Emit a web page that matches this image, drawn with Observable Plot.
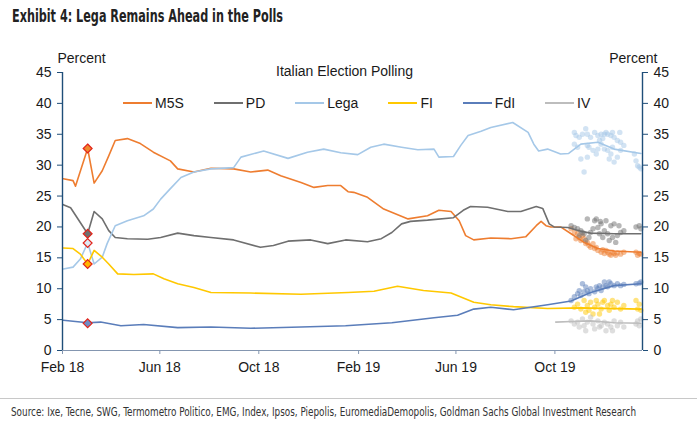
<!DOCTYPE html>
<html><head><meta charset="utf-8">
<script src="https://cdn.jsdelivr.net/npm/d3@7"></script>
<script src="https://cdn.jsdelivr.net/npm/@observablehq/plot@0.6"></script>
<style>
body{margin:0;background:#fff;}
#wrap{position:relative;width:697px;height:432px;overflow:hidden;background:#fff;font-family:"Liberation Sans",Arial,sans-serif;color:#1a1a1a;}
#title{position:absolute;left:12px;top:6px;font-family:"Liberation Sans Narrow","Arial Narrow","DejaVu Sans Condensed",sans-serif;font-weight:bold;font-size:17px;line-height:20px;white-space:nowrap;transform-origin:0 0;color:#222;}
#chart{position:absolute;left:0;top:35px;}
#legend{position:absolute;top:94px;left:123px;height:18px;display:flex;gap:30px;font-size:14px;}
.li{height:18px;line-height:18px;white-space:nowrap;display:flex;align-items:center;}
.sw{display:inline-block;width:29px;height:2px;margin-right:3px;}
#sep{position:absolute;left:0;top:398px;width:697px;height:1px;background:#c8c8c8;}
#source{position:absolute;left:11px;top:405px;font-family:"Liberation Sans Narrow","Arial Narrow","DejaVu Sans Condensed",sans-serif;font-size:12px;line-height:14px;color:#333;white-space:nowrap;transform-origin:0 0;}
</style></head>
<body>
<div id="wrap">
  <div id="title">Exhibit 4: Lega Remains Ahead in the Polls</div>
  <div id="chart"></div>
  <div id="legend"></div>
  <div id="sep"></div>
  <div id="source">Source: Ixe, Tecne, SWG, Termometro Politico, EMG, Index, Ipsos, Piepolis, EuromediaDemopolis, Goldman Sachs Global Investment Research</div>
</div>
<script>
// ---------- data ----------
const parties = ["M5S", "PD", "Lega", "FI", "FdI", "IV"];
const partyColors = ["#EE7D30", "#6F6F6F", "#A5C8E8", "#FFC800", "#5A7DBA", "#BDBDBD"];

const yTicks = [0, 5, 10, 15, 20, 25, 30, 35, 40, 45];
const xTickDates = ["2018-02-01", "2018-06-01", "2018-10-01", "2019-02-01", "2019-06-01", "2019-10-01"];
const xTickLabels = ["Feb 18", "Jun 18", "Oct 18", "Feb 19", "Jun 19", "Oct 19"];
const xStart = "2018-02-01", xEnd = "2020-01-17";

const m5sLine = [["2018-02-02",27.8],["2018-02-14",27.5],["2018-02-17",26.6],["2018-03-04",32.7],["2018-03-12",27.1],["2018-03-22",29.1],["2018-03-30",31.5],["2018-04-07",34.0],["2018-04-22",34.3],["2018-05-08",33.5],["2018-05-24",32.1],["2018-06-14",30.7],["2018-06-23",29.4],["2018-07-13",28.9],["2018-08-03",29.5],["2018-08-31",29.4],["2018-09-21",28.9],["2018-10-12",29.2],["2018-10-28",28.3],["2018-11-22",27.2],["2018-12-08",26.4],["2018-12-25",26.7],["2019-01-10",26.7],["2019-01-19",25.7],["2019-01-26",25.6],["2019-02-12",24.8],["2019-03-04",22.9],["2019-04-03",21.3],["2019-04-27",21.8],["2019-05-11",22.7],["2019-05-26",22.5],["2019-06-05",21.0],["2019-06-13",18.6],["2019-06-23",17.9],["2019-07-14",18.2],["2019-08-08",18.1],["2019-08-26",18.4],["2019-09-08",20.2],["2019-09-14",20.9],["2019-09-20",20.2],["2019-09-26",20.0],["2019-10-08",20.0],["2019-10-21",18.9],["2019-11-06",17.5],["2019-11-23",16.5],["2019-12-13",16.1],["2020-01-15",15.9]];
const pdLine = [["2018-02-02",23.6],["2018-02-11",23.1],["2018-03-04",18.9],["2018-03-12",22.5],["2018-03-22",21.3],["2018-03-30",19.4],["2018-04-07",18.3],["2018-04-22",18.1],["2018-05-17",18.0],["2018-06-02",18.3],["2018-06-23",19.0],["2018-07-13",18.6],["2018-08-03",18.3],["2018-08-31",17.9],["2018-10-03",16.7],["2018-10-19",17.0],["2018-11-06",17.7],["2018-12-04",17.9],["2018-12-25",17.3],["2019-01-16",17.9],["2019-02-12",17.6],["2019-03-01",18.1],["2019-03-14",19.1],["2019-03-26",20.5],["2019-04-06",20.9],["2019-04-27",21.1],["2019-05-29",21.5],["2019-06-10",22.7],["2019-06-19",23.3],["2019-07-10",23.2],["2019-08-04",22.5],["2019-08-20",22.5],["2019-09-08",23.3],["2019-09-16",23.0],["2019-09-24",20.5],["2019-09-30",20.0],["2019-10-17",19.9],["2019-11-02",19.3],["2019-11-14",19.0],["2019-12-13",18.9],["2020-01-15",18.9]];
const legaLine = [["2018-02-02",13.2],["2018-02-14",13.5],["2018-02-23",14.8],["2018-03-04",17.4],["2018-03-12",14.0],["2018-03-22",15.1],["2018-03-28",17.3],["2018-04-07",20.2],["2018-04-22",21.0],["2018-05-12",21.8],["2018-05-24",22.9],["2018-06-02",24.5],["2018-06-14",26.2],["2018-06-27",28.0],["2018-07-13",28.9],["2018-08-03",29.4],["2018-08-31",29.6],["2018-09-09",31.3],["2018-10-07",32.3],["2018-11-06",31.1],["2018-11-30",32.1],["2018-12-20",32.6],["2019-01-10",32.0],["2019-01-31",31.7],["2019-02-16",32.9],["2019-03-04",33.4],["2019-03-26",32.9],["2019-04-15",32.5],["2019-05-05",32.6],["2019-05-11",31.3],["2019-05-29",31.4],["2019-06-07",33.2],["2019-06-16",34.8],["2019-07-02",35.5],["2019-07-14",36.1],["2019-08-10",36.9],["2019-08-29",35.3],["2019-09-05",33.4],["2019-09-11",32.3],["2019-09-22",32.6],["2019-10-08",31.8],["2019-10-18",31.9],["2019-11-02",33.4],["2019-11-23",33.7],["2019-12-13",32.6],["2020-01-15",31.9]];
const fiLine = [["2018-02-02",16.6],["2018-02-14",16.5],["2018-02-23",15.6],["2018-03-04",14.0],["2018-03-12",16.2],["2018-03-22",15.1],["2018-03-30",14.0],["2018-04-10",12.4],["2018-04-30",12.3],["2018-05-24",12.4],["2018-06-06",11.6],["2018-06-23",10.8],["2018-07-13",10.2],["2018-08-03",9.4],["2018-09-21",9.3],["2018-11-22",9.1],["2019-01-19",9.4],["2019-02-20",9.6],["2019-03-21",10.4],["2019-04-22",9.7],["2019-05-26",9.3],["2019-06-23",7.8],["2019-07-14",7.4],["2019-08-11",7.1],["2019-09-22",6.8],["2019-11-02",6.9],["2020-01-15",6.7]];
const fdiLine = [["2018-02-02",4.9],["2018-03-04",4.5],["2018-03-20",4.6],["2018-04-14",4.0],["2018-05-12",4.2],["2018-06-23",3.7],["2018-08-03",3.8],["2018-09-21",3.6],["2018-11-22",3.8],["2019-01-16",4.0],["2019-03-14",4.5],["2019-05-05",5.3],["2019-06-03",5.7],["2019-06-23",6.7],["2019-07-14",7.0],["2019-08-11",6.6],["2019-09-22",7.4],["2019-10-21",8.0],["2019-11-14",9.4],["2019-12-13",10.5],["2020-01-15",10.8]];
const ivLine = [["2019-10-02",4.6],["2019-10-21",4.7],["2019-11-14",4.8],["2019-12-13",4.5],["2020-01-15",4.4]];

const m5sPolls = [["2019-10-21",19.7],["2019-10-25",19.1],["2019-10-27",18.1],["2019-10-29",18.9],["2019-10-31",18.3],["2019-11-02",17.8],["2019-11-04",18.6],["2019-11-06",18.1],["2019-11-08",17.3],["2019-11-10",17.5],["2019-11-12",17.0],["2019-11-14",16.7],["2019-11-17",17.3],["2019-11-19",16.5],["2019-11-21",16.7],["2019-11-23",16.2],["2019-11-27",15.9],["2019-11-29",16.3],["2019-12-01",15.7],["2019-12-03",16.2],["2019-12-05",15.9],["2019-12-07",15.6],["2019-12-09",15.4],["2019-12-11",15.9],["2019-12-13",15.7],["2019-12-15",15.4],["2019-12-17",15.8],["2019-12-21",15.6],["2019-12-25",15.9],["2020-01-09",15.9],["2020-01-11",15.4],["2020-01-13",15.7],["2020-01-15",15.6]];
const pdPolls = [["2019-10-21",20.2],["2019-10-25",19.9],["2019-10-29",19.7],["2019-11-02",19.4],["2019-11-06",18.9],["2019-11-10",21.3],["2019-11-14",19.1],["2019-11-19",21.0],["2019-11-21",21.3],["2019-11-23",19.9],["2019-11-27",20.5],["2019-12-01",19.4],["2019-12-03",21.0],["2019-12-05",18.9],["2019-12-09",20.2],["2019-12-13",20.5],["2019-12-17",18.6],["2019-12-19",20.2],["2019-12-21",19.1],["2019-12-25",19.4],["2019-10-31",18.6],["2019-11-04",19.1],["2019-11-08",17.8],["2019-11-12",18.3],["2019-11-17",19.7],["2019-11-25",18.9],["2019-11-29",18.3],["2019-12-07",17.8],["2019-12-11",18.3],["2019-12-15",17.5],["2020-01-09",20.0],["2020-01-13",20.2],["2020-01-15",19.7],["2019-11-26",20.9]];
const legaPolls = [["2019-10-25",35.3],["2019-10-27",34.8],["2019-10-31",34.5],["2019-11-04",35.0],["2019-11-08",35.9],["2019-11-10",35.0],["2019-11-14",34.5],["2019-11-19",35.3],["2019-11-23",34.8],["2019-11-27",35.0],["2019-11-29",34.3],["2019-12-01",35.0],["2019-12-03",35.3],["2019-12-05",35.0],["2019-12-09",34.8],["2019-12-11",35.3],["2019-12-13",34.5],["2019-12-17",34.0],["2019-12-20",35.3],["2019-12-21",33.7],["2019-12-25",33.2],["2019-10-25",33.4],["2019-10-29",32.9],["2019-11-02",31.0],["2019-11-06",28.9],["2019-11-10",31.3],["2019-11-12",32.9],["2019-11-17",32.4],["2019-11-21",31.8],["2019-11-23",32.6],["2019-11-27",33.4],["2019-12-01",32.6],["2019-12-05",32.4],["2019-12-07",31.0],["2019-12-09",31.8],["2019-12-13",30.5],["2019-12-17",31.3],["2019-12-21",32.4],["2020-01-07",31.8],["2020-01-09",30.7],["2020-01-11",29.9],["2020-01-13",29.7],["2020-01-15",29.4],["2019-11-10",33.2],["2019-11-25",34.0],["2019-12-11",32.9]];
const fiPolls = [["2019-10-25",7.0],["2019-10-29",7.5],["2019-11-02",6.7],["2019-11-06",8.1],["2019-11-08",6.2],["2019-11-10",7.3],["2019-11-12",6.5],["2019-11-14",7.8],["2019-11-17",5.9],["2019-11-19",7.0],["2019-11-21",8.1],["2019-11-23",7.5],["2019-11-25",5.9],["2019-11-27",6.7],["2019-11-29",7.8],["2019-12-01",8.1],["2019-12-05",7.3],["2019-12-07",6.5],["2019-12-09",7.5],["2019-12-11",8.1],["2019-12-13",7.0],["2019-12-17",7.8],["2019-12-21",6.7],["2019-12-25",7.3],["2020-01-09",8.1],["2020-01-11",6.7],["2020-01-13",7.5],["2020-01-15",6.5]];
const fdiPolls = [["2019-10-21",8.1],["2019-10-25",8.7],["2019-10-29",9.2],["2019-10-31",9.7],["2019-11-02",8.9],["2019-11-04",10.8],["2019-11-06",9.5],["2019-11-08",10.3],["2019-11-10",9.7],["2019-11-12",9.2],["2019-11-14",10.0],["2019-11-19",9.5],["2019-11-21",10.3],["2019-11-23",10.0],["2019-11-25",10.5],["2019-11-27",9.7],["2019-11-29",10.3],["2019-12-01",11.1],["2019-12-03",10.5],["2019-12-05",10.3],["2019-12-07",11.1],["2019-12-09",10.8],["2019-12-13",10.5],["2019-12-17",10.8],["2019-12-21",10.5],["2019-12-25",10.7],["2020-01-09",10.8],["2020-01-13",10.9],["2020-01-15",11.1]];
const ivPolls = [["2019-10-21",4.8],["2019-10-25",4.3],["2019-10-29",4.6],["2019-10-31",3.8],["2019-11-04",5.1],["2019-11-06",4.0],["2019-11-08",3.2],["2019-11-10",4.6],["2019-11-14",5.4],["2019-11-17",4.3],["2019-11-19",3.5],["2019-11-23",4.8],["2019-11-25",3.8],["2019-11-27",4.0],["2019-12-01",4.6],["2019-12-03",3.2],["2019-12-05",4.3],["2019-12-09",3.8],["2019-12-11",3.2],["2019-12-13",4.8],["2019-12-17",4.0],["2019-12-21",4.6],["2019-12-25",3.8],["2020-01-09",4.3],["2020-01-11",4.8],["2020-01-13",4.0],["2020-01-15",5.1]];

const electionDate = "2018-03-04";
const electionParties = ["M5S", "PD", "Lega", "FI", "FdI"];
const electionValues = [32.7, 18.9, 17.4, 14.0, 4.4];
const electionFills = ["#F08A2E", "#6F6F6F", "#DDE8F4", "#FFB400", "#6E8CC6"];

// ---------- build tables ----------
const lineSets = [["M5S", m5sLine], ["PD", pdLine], ["Lega", legaLine], ["FI", fiLine], ["FdI", fdiLine], ["IV", ivLine]];
const pollSets = [["M5S", m5sPolls], ["PD", pdPolls], ["Lega", legaPolls], ["FI", fiPolls], ["FdI", fdiPolls], ["IV", ivPolls]];
const flat = sets => sets.flatMap(([party, pts]) => pts.map(([d, v]) => ({party, date: new Date(d), value: v})));
const lineRows = flat(lineSets);
const pollRows = flat(pollSets);
const tickDates = xTickDates.map(d => new Date(d));
const electionRows = electionParties.map((p, i) => ({party: p, date: new Date(electionDate), value: electionValues[i], fill: electionFills[i]}));

const axisBlue = "#1F4E79";
const diamond = d3.symbolDiamond2 || d3.symbolSquare;
const diamondRotate = d3.symbolDiamond2 ? 0 : 45;

const chart = Plot.plot({
  width: 697, height: 355,
  marginTop: 37, marginBottom: 40, marginLeft: 62, marginRight: 55,
  x: {type: "utc", domain: [new Date(xStart), new Date(xEnd)]},
  y: {domain: [0, 45]},
  color: {domain: parties, range: partyColors},
  style: {fontSize: "14px", fontFamily: "'Liberation Sans', Arial, sans-serif", color: "#1a1a1a", background: "white", overflow: "visible"},
  marks: [
    Plot.dot(pollRows, {x: "date", y: "value", fill: "party", r: 2.7, fillOpacity: 0.5}),
    Plot.line(lineRows, {x: "date", y: "value", z: "party", stroke: "party", strokeWidth: 1.6}),
    Plot.ruleY([0], {stroke: "#8496B0", strokeWidth: 1.2}),
    Plot.ruleX([new Date(xStart)], {stroke: axisBlue, strokeWidth: 1.4}),
    Plot.ruleX([new Date(xEnd)], {stroke: axisBlue, strokeWidth: 1.4}),
    Plot.axisY({anchor: "left", ticks: yTicks, tickSize: 5, tickPadding: 6, stroke: axisBlue, label: null}),
    Plot.axisY({anchor: "right", ticks: yTicks, tickSize: 5, tickPadding: 6, stroke: axisBlue, label: null}),
    Plot.axisX({ticks: tickDates, tickFormat: d => xTickLabels[tickDates.findIndex(t => +t === +d)], tickSize: 4, tickPadding: 8, stroke: "#8496B0", label: null}),
    ...electionRows.map(r => Plot.dot([r], {x: "date", y: "value", symbol: diamond, rotate: diamondRotate, r: 4, fill: r.fill, stroke: "#E2231A", strokeWidth: 1.2})),
    Plot.text(["Percent"], {text: d => d, frameAnchor: "top-left", dx: -5, dy: -19}),
    Plot.text(["Percent"], {text: d => d, frameAnchor: "top-right", dx: 15, dy: -19}),
    Plot.text(["Italian Election Polling"], {text: d => d, frameAnchor: "top", dx: -8, dy: -6})
  ]
});
document.getElementById("chart").appendChild(chart);

// legend
const legend = document.getElementById("legend");
parties.forEach((p, i) => {
  const item = document.createElement("div");
  item.className = "li";
  const sw = document.createElement("span");
  sw.className = "sw";
  sw.style.background = partyColors[i];
  item.appendChild(sw);
  item.appendChild(document.createTextNode(p));
  legend.appendChild(item);
});

// fit condensed texts to reference widths
function fit(id, target) {
  const el = document.getElementById(id);
  const w = el.getBoundingClientRect().width;
  if (w > 0) el.style.transform = `scaleX(${target / w})`;
}
fit("title", 271);
fit("source", 625);
</script>
</body></html>
